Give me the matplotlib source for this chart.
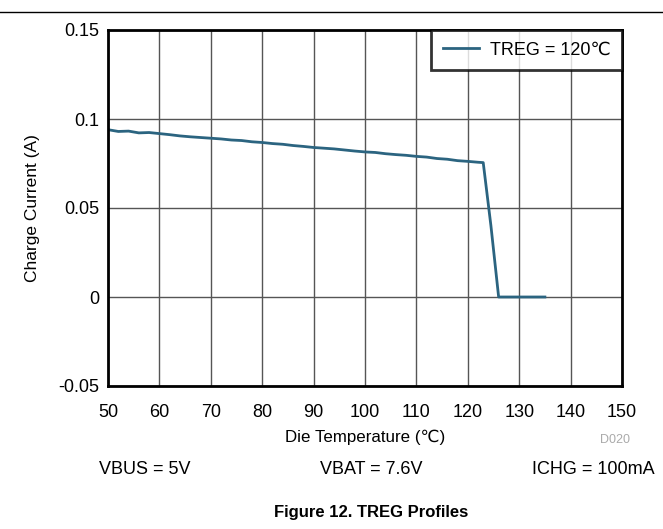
import numpy as np
import matplotlib.pyplot as plt

plt.rcParams['font.family'] = ['Liberation Sans', 'DejaVu Sans']

# die temperature (C) and charge current (A)
temp = [50, 52, 54, 56, 58, 60, 62, 64, 66, 68, 70, 72, 74, 76, 78, 80,
        82, 84, 86, 88, 90, 92, 94, 96, 98, 100, 102, 104, 106, 108, 110,
        112, 114, 116, 118, 120, 122, 123, 124.5, 126, 127, 128, 130, 132, 135]
current = [0.0940, 0.0930, 0.0932, 0.0922, 0.0924, 0.0918, 0.0912, 0.0905,
           0.0900, 0.0896, 0.0892, 0.0888, 0.0882, 0.0879, 0.0872, 0.0868,
           0.0862, 0.0858, 0.0851, 0.0846, 0.0840, 0.0836, 0.0832, 0.0826,
           0.0820, 0.0815, 0.0812, 0.0805, 0.0800, 0.0796, 0.0790, 0.0786,
           0.0778, 0.0774, 0.0766, 0.0762, 0.0757, 0.0755, 0.0400, 0.0,
           0.0, 0.0, 0.0, 0.0, 0.0]
legend_label = 'TREG = 120\u2103'

fig = plt.figure(figsize=(6.63, 5.29), dpi=100)
ax = fig.add_axes([108 / 663, 1 - 386 / 529, 514 / 663, 356 / 529])

ax.plot(temp, current, color='#2b6480', lw=2.0, label=legend_label)

ax.set_xlim(50, 150)
ax.set_ylim(-0.05, 0.15)
ax.set_xticks(np.arange(50, 151, 10))
ax.set_yticks([-0.05, 0, 0.05, 0.1, 0.15])
ax.set_yticklabels(['-0.05', '0', '0.05', '0.1', '0.15'])
ax.tick_params(length=0, labelsize=13)
ax.tick_params(axis='x', pad=13)
ax.tick_params(axis='y', pad=6)
ax.grid(True, color='#555555', lw=1.0)
ax.set_axisbelow(True)
for sp in ax.spines.values():
    sp.set_linewidth(2.0)
    sp.set_color('black')

ax.set_xlabel('Die Temperature (\u2103)', fontsize=12.2, va='center')
ax.xaxis.set_label_coords(0.5, -(437 - 386) / 356)
ax.set_ylabel('Charge Current (A)', fontsize=12.5, va='center')
ax.yaxis.set_label_coords((33 - 108) / 514, 0.5)

leg = ax.legend(loc='upper right', fontsize=13, frameon=True, fancybox=False,
                borderaxespad=0, handlelength=2.0, handletextpad=0.6,
                borderpad=0.65)
leg.get_frame().set_edgecolor('black')
leg.get_frame().set_linewidth(2.0)

fig.text(615 / 663, 1 - 440 / 529, 'D020', color='#aaaaaa', fontsize=9,
         ha='center', va='center')
fig.text(145 / 663, 1 - 470 / 529, 'VBUS = 5V', fontsize=13, ha='center', va='center')
fig.text(371 / 663, 1 - 470 / 529, 'VBAT = 7.6V', fontsize=13, ha='center', va='center')
fig.text(655 / 663, 1 - 470 / 529, 'ICHG = 100mA', fontsize=13, ha='right', va='center')
fig.text(371 / 663, 1 - 513 / 529, 'Figure 12. TREG Profiles', fontsize=12,
         fontweight='bold', ha='center', va='center')

fig.add_artist(plt.Line2D([0, 1], [1 - 12 / 529, 1 - 12 / 529], color='black', lw=1.0))

fig.savefig('out.png', dpi=100)
